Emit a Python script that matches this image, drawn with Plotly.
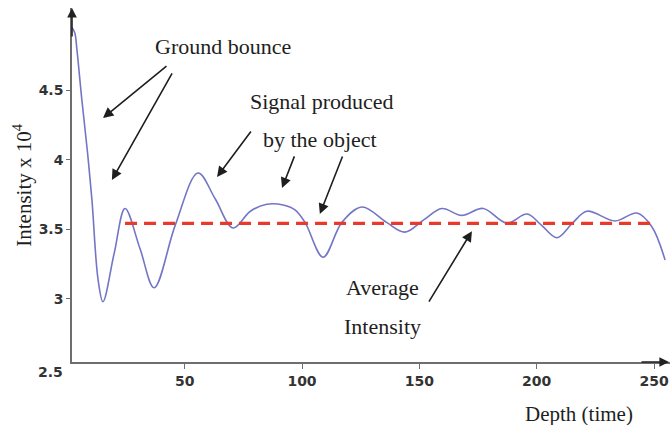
import plotly.graph_objects as go

# Data
depth = [2, 3.2, 4.1, 6.2, 8.5, 10.5, 13.1, 15.2, 20, 24.6, 31, 37, 46, 55.7, 63, 70.6,
         78, 85, 92, 97, 101.3, 109, 117, 125.6, 136, 143.9, 152, 159.6, 168, 177.2,
         187.3, 195.9, 202, 208.6, 215, 221.4, 233.4, 242.7, 249, 254.7]
intensity = [4.95, 4.91, 4.79, 4.43, 4.07, 3.71, 3.14, 2.98, 3.33, 3.65, 3.36, 3.08, 3.53,
             3.905, 3.72, 3.51, 3.63, 3.68, 3.675, 3.64, 3.55, 3.30, 3.55, 3.66, 3.55, 3.48,
             3.57, 3.65, 3.60, 3.65, 3.545, 3.61, 3.53, 3.44, 3.54, 3.63, 3.56, 3.617, 3.52, 3.28]
avg_x = [24.6, 249.6]
avg_y = [3.543, 3.543]

x_ticks = [50, 100, 150, 200, 250]
y_ticks = [3, 3.5, 4, 4.5]

SERIF = "Liberation Serif"
TXT = "#1e1e1e"
TICKFONT = dict(family="DejaVu Sans", size=14, color="#333")

fig = go.Figure()
fig.add_trace(go.Scatter(x=depth, y=intensity, mode="lines",
                         line=dict(color="#7376c4", width=1.6, shape="spline", smoothing=1.0),
                         hoverinfo="skip"))
fig.add_trace(go.Scatter(x=avg_x, y=avg_y, mode="lines",
                         line=dict(color="#e8392b", width=3.2, dash="12px,7px"),
                         hoverinfo="skip"))

annotations = []
# Text labels
labels = [
    ("Ground bounce", 66.3, 4.81),
    ("Signal produced", 108.5, 4.415),
    ("by the object", 107.6, 4.142),
    ("Average", 134.5, 3.079),
    ("Intensity", 134.5, 2.80),
]
for t, x, y in labels:
    annotations.append(dict(text=t, x=x, y=y, xref="x", yref="y", showarrow=False,
                            xanchor="center", yanchor="middle",
                            font=dict(family=SERIF, size=22, color=TXT)))

# Pointer arrows (tail -> head)
arrows = [
    ((42.9, 4.681), (15.2, 4.30)),
    ((45.0, 4.631), (19.0, 3.855)),
    ((78.7, 4.214), (63.8, 3.876)),
    ((97.0, 4.035), (91.5, 3.797)),
    ((117.5, 4.034), (107.6, 3.61)),
    ((153.7, 2.97), (172.4, 3.487)),
]
for (tx, ty), (hx, hy) in arrows:
    annotations.append(dict(text="", x=hx, y=hy, ax=tx, ay=ty, xref="x", yref="y",
                            axref="x", ayref="y", showarrow=True, arrowhead=2,
                            arrowsize=1.3, arrowwidth=1.6, arrowcolor="#1e1e1e", standoff=0))

# Axis arrows
annotations.append(dict(text="", x=0, y=1, xref="paper", yref="paper", ax=0, ay=30,
                        showarrow=True, arrowhead=2, arrowsize=1.2, arrowwidth=1.6,
                        arrowcolor="#222", standoff=0))
annotations.append(dict(text="", x=1, y=0, xref="paper", yref="paper", ax=-30, ay=0,
                        showarrow=True, arrowhead=2, arrowsize=1.2, arrowwidth=1.6,
                        arrowcolor="#222", standoff=0))

# Axis titles
annotations.append(dict(text="Intensity x 10<sup>4</sup>", x=-0.084, y=0.5,
                        xref="paper", yref="paper", showarrow=False, textangle=-90,
                        xanchor="center", yanchor="middle",
                        font=dict(family=SERIF, size=21, color=TXT)))
annotations.append(dict(text="Depth (time)", x=0.847, y=-0.146, xref="paper", yref="paper",
                        showarrow=False, xanchor="center", yanchor="middle",
                        font=dict(family=SERIF, size=21, color=TXT)))
# "2.5" label below the axis crossing
annotations.append(dict(text="<b>2.5</b>", x=-0.012, y=-0.027, xref="paper", yref="paper",
                        xanchor="right", yanchor="middle", showarrow=False, font=TICKFONT))

fig.update_layout(
    width=670, height=425,
    margin=dict(l=72, r=0, t=8, b=63),
    paper_bgcolor="white", plot_bgcolor="white",
    showlegend=False,
    annotations=annotations,
    xaxis=dict(range=[2.0, 256.8], tickvals=x_ticks, ticktext=[f"<b>{v}</b>" for v in x_ticks],
               showgrid=False, zeroline=False, showline=True, linecolor="#6e6e6e", linewidth=1.5,
               ticks="outside", ticklen=5, tickcolor="#6e6e6e", tickfont=TICKFONT),
    yaxis=dict(range=[2.547, 5.09], tickvals=y_ticks,
               ticktext=[f"<b>{v}</b>" for v in y_ticks],
               showgrid=False, zeroline=False, showline=True, linecolor="#6e6e6e", linewidth=1.5,
               ticks="outside", ticklen=4, tickcolor="#6e6e6e", tickfont=TICKFONT),
)

fig.write_html("out.html")
